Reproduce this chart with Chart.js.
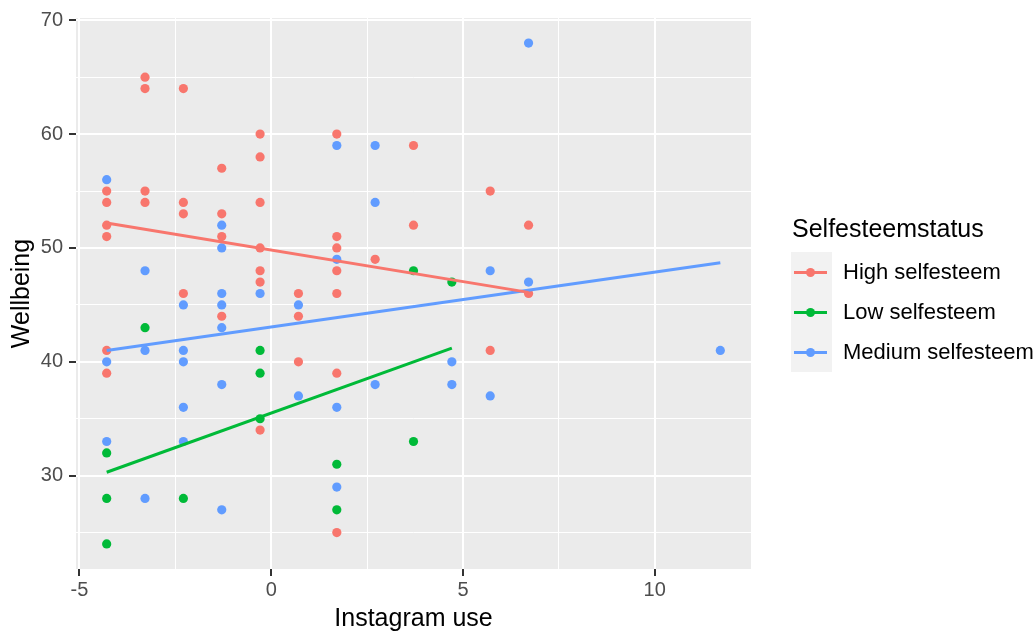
<!DOCTYPE html>
<html>
<head>
<meta charset="utf-8">
<script src="https://cdn.jsdelivr.net/npm/chart.js@4"></script>
<style>
  body { margin: 0; background: #fff; font-family: "Liberation Sans", Arial, sans-serif; }
  #wrap { position: relative; width: 1033px; height: 634px; }
  #legend { position: absolute; left: 791px; top: 216px; width: 242px; white-space: nowrap; }
  #legend .title { font-size: 25px; line-height: 25px; color: #000; margin-left: 1px; height: 36px; }
  #legend .row { display: flex; align-items: center; height: 40px; }
  #legend .key { position: relative; flex: none; width: 41px; height: 40px; background: #f2f2f2; }
  #legend .key .ln { position: absolute; left: 3px; width: 33px; top: 19px; height: 3px; }
  #legend .key .dot { position: absolute; left: 15px; top: 16px; width: 9px; height: 9px; border-radius: 50%; }
  #legend .lab { font-size: 22px; color: #000; margin-left: 11px; white-space: nowrap; }
</style>
</head>
<body>
<div id="wrap">
  <canvas id="chart"></canvas>
  <div id="legend"></div>
</div>
<script>
// group names + colours (ggplot default hues)
const groups = ["High selfesteem", "Low selfesteem", "Medium selfesteem"];
const colors = ["#F8766D", "#00BA38", "#619CFF"];

// points: Instagram use (centered) vs Wellbeing
const highX = [-4.29,-4.29,-4.29,-4.29,-4.29,-4.29, -3.29,-3.29,-3.29,-3.29, -2.29,-2.29,-2.29,-2.29,
               -1.29,-1.29,-1.29,-1.29, -0.29,-0.29,-0.29,-0.29,-0.29,-0.29,-0.29, 0.71,0.71,0.71,
               1.71,1.71,1.71,1.71,1.71,1.71,1.71, 2.71, 3.71,3.71, 5.71,5.71, 6.71,6.71];
const highY = [55,54,52,51,41,39, 65,64,55,54, 64,54,53,46,
               57,53,51,44, 60,58,54,50,48,47,34, 46,44,40,
               60,51,50,48,46,39,25, 49, 59,52, 55,41, 52,46];

const lowX = [-4.29,-4.29,-4.29, -3.29, -2.29, -0.29,-0.29,-0.29, 1.71,1.71, 3.71,3.71, 4.71];
const lowY = [32,28,24, 43, 28, 41,39,35, 31,27, 48,33, 47];

const medX = [-4.29,-4.29,-4.29, -3.29,-3.29,-3.29, -2.29,-2.29,-2.29,-2.29,-2.29,
              -1.29,-1.29,-1.29,-1.29,-1.29,-1.29,-1.29, -0.29, 0.71,0.71,
              1.71,1.71,1.71,1.71, 2.71,2.71,2.71, 4.71,4.71, 5.71,5.71, 6.71,6.71, 11.71];
const medY = [56,40,33, 48,41,28, 45,41,40,36,33,
              52,50,46,45,43,38,27, 46, 45,37,
              59,49,36,29, 59,54,38, 40,38, 48,37, 68,47, 41];

// lm fit lines (endpoints)
const highFitX = [-4.29, 6.71],  highFitY = [52.2, 46.1];
const lowFitX  = [-4.29, 4.71],  lowFitY  = [30.3, 41.2];
const medFitX  = [-4.29, 11.71], medFitY  = [41.0, 48.7];

// axis ticks (majors get labels, minors only a grid line)
const xTickValues = [-5, -2.5, 0, 2.5, 5, 7.5, 10];
const yTickValues = [25, 30, 35, 40, 45, 50, 55, 60, 65, 70];

const pts = (xs, ys) => xs.map((x, i) => ({x: x, y: ys[i]}));

const pointSets = [pts(highX, highY), pts(lowX, lowY), pts(medX, medY)];
const fitSets = [pts(highFitX, highFitY), pts(lowFitX, lowFitY), pts(medFitX, medFitY)];

const datasets = [];
pointSets.forEach((d, i) => datasets.push({
  label: groups[i], data: d, order: 2,
  pointRadius: 4.6, pointHoverRadius: 4.6, pointBorderWidth: 0,
  backgroundColor: colors[i], borderColor: colors[i]
}));
fitSets.forEach((d, i) => datasets.push({
  label: groups[i] + " fit", data: d, order: 1, showLine: true,
  pointRadius: 0, borderWidth: 3, borderColor: colors[i], backgroundColor: colors[i]
}));

const isMajorX = v => v % 5 === 0;
const isMajorY = v => v % 10 === 0;

const panelBg = {
  id: 'panelBg',
  beforeDraw(chart) {
    const a = chart.chartArea, ctx = chart.ctx;
    ctx.save();
    ctx.fillStyle = '#ebebeb';
    ctx.fillRect(a.left, a.top, a.right - a.left, a.bottom - a.top);
    ctx.restore();
  }
};

const tickFont = {family: '"Liberation Sans", Arial, sans-serif', size: 20};
const titleFont = {family: '"Liberation Sans", Arial, sans-serif', size: 25};

new Chart(document.getElementById('chart').getContext('2d'), {
  type: 'scatter',
  data: { datasets: datasets },
  plugins: [panelBg],
  options: {
    responsive: true,
    maintainAspectRatio: false,
    animation: false,
    layout: { padding: { left: 0, right: 282, top: 16, bottom: 0 } },
    plugins: { legend: { display: false }, tooltip: { enabled: false } },
    scales: {
      x: {
        type: 'linear', min: -5.09, max: 12.51,
        afterBuildTicks: s => { s.ticks = xTickValues.map(v => ({value: v})); },
        afterFit: s => { s.height = 65; },
        ticks: {
          autoSkip: false, maxRotation: 0, padding: 2, color: '#4d4d4d', font: tickFont,
          callback: v => isMajorX(v) ? String(v) : ''
        },
        grid: {
          color: '#ffffff', tickLength: 7, tickWidth: 2,
          lineWidth: c => isMajorX(c.tick.value) ? 2 : 1,
          tickColor: c => isMajorX(c.tick.value) ? '#333333' : 'rgba(0,0,0,0)'
        },
        border: { display: false },
        title: { display: true, text: 'Instagram use', color: '#000', font: titleFont, padding: {top: 0, bottom: 0} }
      },
      y: {
        type: 'linear', min: 21.8, max: 70.2,
        afterBuildTicks: s => { s.ticks = yTickValues.map(v => ({value: v})); },
        afterFit: s => { s.width = 76; },
        ticks: {
          autoSkip: false, padding: 6, color: '#4d4d4d', font: tickFont,
          callback: v => isMajorY(v) ? String(v) : ''
        },
        grid: {
          color: '#ffffff', tickLength: 7, tickWidth: 2,
          lineWidth: c => isMajorY(c.tick.value) ? 2 : 1,
          tickColor: c => isMajorY(c.tick.value) ? '#333333' : 'rgba(0,0,0,0)'
        },
        border: { display: false },
        title: { display: true, text: 'Wellbeing', color: '#000', font: titleFont, padding: {top: 7, bottom: 0} }
      }
    }
  }
});

// legend, drawn like ggplot's guide
const legend = document.getElementById('legend');
let html = '<div class="title">Selfesteemstatus</div>';
groups.forEach((g, i) => {
  html += '<div class="row"><div class="key"><div class="ln" style="background:' + colors[i] + '"></div>' +
          '<div class="dot" style="background:' + colors[i] + '"></div></div>' +
          '<div class="lab">' + g + '</div></div>';
});
legend.innerHTML = html;
</script>
</body>
</html>
